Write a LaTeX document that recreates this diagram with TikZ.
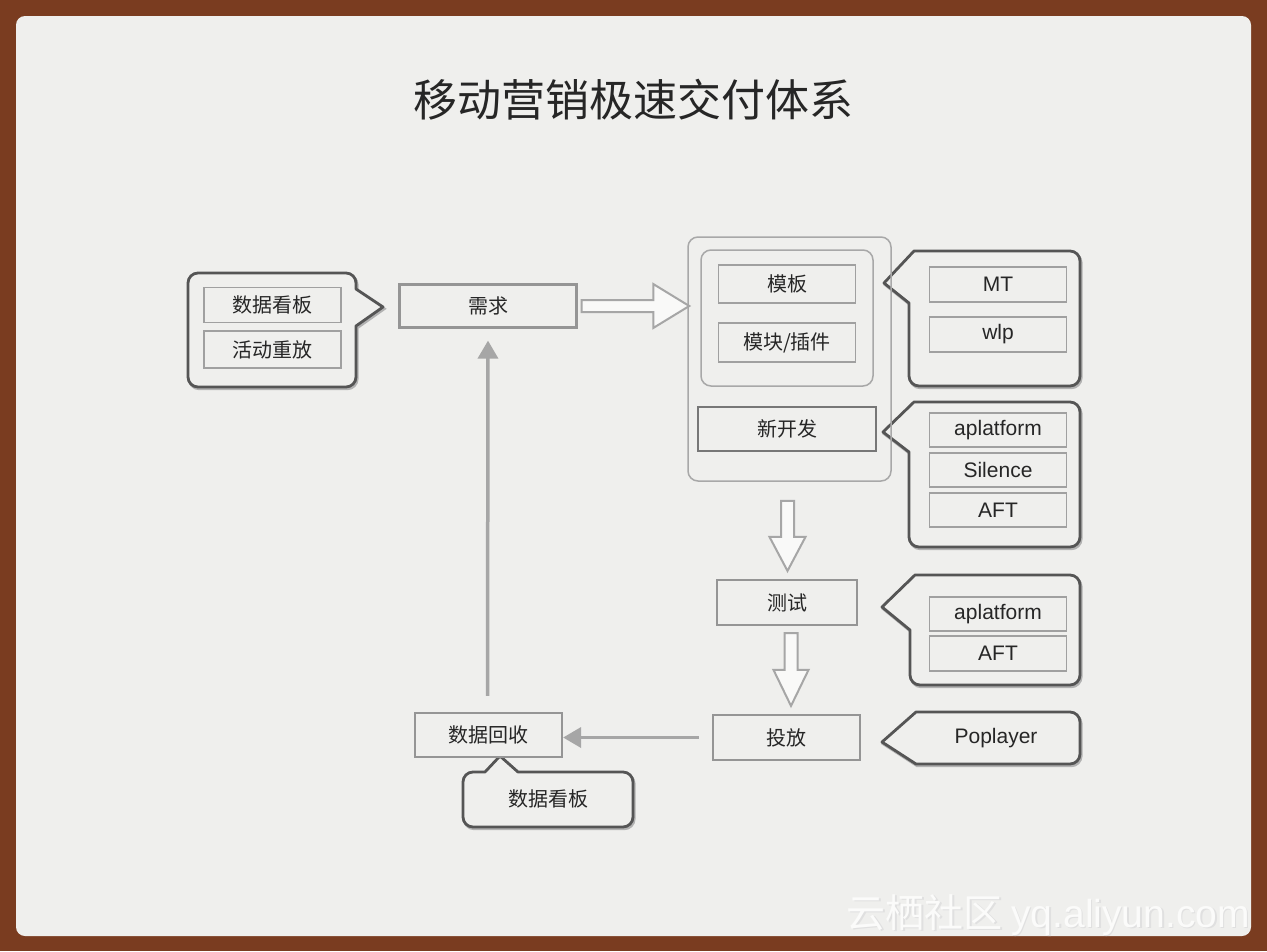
\documentclass[tikz,border=0pt]{standalone}
\usepackage{fontspec}
\setmainfont{Noto Sans CJK SC}
\newfontfamily\lat{Liberation Sans}
\usetikzlibrary{calc,arrows.meta}
\definecolor{bgbrown}{HTML}{7A3C20}
\definecolor{panel}{HTML}{EFEFED}
\definecolor{txt}{HTML}{262626}
\definecolor{boxgray}{HTML}{A0A0A0}
\definecolor{stagegray}{HTML}{959595}
\definecolor{calloutgray}{HTML}{555555}
\definecolor{contgray}{HTML}{A8A8A8}
\definecolor{arrowgray}{HTML}{A6A6A6}
\begin{document}
\begin{tikzpicture}[x=1pt,y=-1pt,
  inbox/.style={draw=boxgray, line width=1.5pt, fill=panel, minimum width=137pt,
    minimum height=35pt, inner sep=0pt, text=txt, font=\fontsize{20}{24}\selectfont},
  latbox/.style={inbox, font=\lat\fontsize{21}{25}\selectfont},
  stage/.style={draw=stagegray, line width=2.2pt, fill=panel, inner sep=0pt, text=txt,
    font=\fontsize{20}{24}\selectfont},
  callout/.style={draw=calloutgray, line width=2.8pt, fill=panel, line join=round,
    preaction={draw=black!30, line width=2.8pt, transform canvas={shift={(1.2pt,-1.8pt)}}}},
  container/.style={draw=contgray, line width=1.5pt, rounded corners=10pt, inner sep=0pt},
  hollow/.style={draw=arrowgray, line width=2pt, fill=panel!40!white, line join=miter},
  flow/.style={draw=arrowgray, line width=3.5pt, -{Triangle[length=18pt,width=20pt]}}]

% background
\fill[bgbrown] (0,0) rectangle (1267,951);
\fill[panel, rounded corners=9pt] (16,16) rectangle (1251,936);
\useasboundingbox (0,0) rectangle (1267,951);

% title
\node[text=txt, font=\fontsize{44}{52}\selectfont, inner sep=0pt] (title) at (633,100) {移动营销极速交付体系};

% callouts (shapes)
\draw[callout] (188,330) [rounded corners=10pt] -- (188,273) -- (356,273) [sharp corners] -- (356,289)
  -- (383,307) -- (356,326) [rounded corners=10pt] -- (356,387) -- (188,387) -- cycle;
\draw[callout] (1080,320) [rounded corners=10pt] -- (1080,386) -- (909,386) [sharp corners] -- (909,303)
  -- (884,283) -- (914,251) [rounded corners=10pt] -- (1080,251) -- cycle;
\draw[callout] (1080,470) [rounded corners=10pt] -- (1080,547) -- (909,547) [sharp corners] -- (909,452)
  -- (883,432) -- (914,402) [rounded corners=10pt] -- (1080,402) -- cycle;
\draw[callout] (1080,630) [rounded corners=10pt] -- (1080,685) -- (910,685) [sharp corners] -- (910,630)
  -- (882,607) -- (915,575) [rounded corners=10pt] -- (1080,575) -- cycle;
\draw[callout] (1080,738) [rounded corners=10pt] -- (1080,764) [sharp corners] -- (916,764)
  -- (882,742) -- (916,712) [rounded corners=10pt] -- (1080,712) -- cycle;
\draw[callout] (633,800) [rounded corners=10pt] -- (633,827) -- (463,827) -- (463,772) [sharp corners]
  -- (485,772) -- (500,756) -- (518,772) [rounded corners=10pt] -- (633,772) -- cycle;

% left callout contents
\node[inbox] (kb1) at (272.5,305) {数据看板};
\node[inbox, minimum height=37pt] (cf) at (272.5,349.5) {活动重放};

% stages
\node[stage, minimum width=177pt, minimum height=43pt] (req) at (488,306) {需求};
\node[container, minimum width=203pt, minimum height=244pt] (big) at (789.5,359) {};
\node[container, minimum width=172pt, minimum height=136pt] (inner) at (787,318) {};
\node[inbox, minimum height=38pt] (mb) at (787,284) {模板};
\node[inbox, minimum height=39pt] (mk) at (787,342.5) {模块/插件};
\node[stage, draw=stagegray!80!black, line width=2.6pt, minimum width=178pt, minimum height=44pt] (xk) at (787,429) {新开发};
\node[stage, minimum width=140pt, minimum height=45pt] (test) at (787,602.5) {测试};
\node[stage, minimum width=147pt, minimum height=45pt] (tf) at (786.5,737.5) {投放};
\node[stage, minimum width=147pt, minimum height=44pt] (hs) at (488.5,735) {数据回收};

% right callout contents
\node[latbox] (mt) at (998,284.5) {MT};
\node[latbox] (wlp) at (998,334.5) {wlp};
\node[latbox, minimum height=34pt] (ap1) at (998,430) {aplatform};
\node[latbox, minimum height=34pt] (sil) at (998,470) {Silence};
\node[latbox, minimum height=34pt] (aft1) at (998,510) {AFT};
\node[latbox, minimum height=34pt] (ap2) at (998,614) {aplatform};
\node[latbox] (aft2) at (998,653.5) {AFT};
\node[text=txt, font=\lat\fontsize{21}{25}\selectfont, inner sep=0pt] (pop) at (996,738) {Poplayer};
\node[text=txt, font=\fontsize{20}{24}\selectfont, inner sep=0pt] (kb2) at (548,799) {数据看板};

% hollow arrows
\draw[hollow] let \p1=($(req.east)+(4,0)$), \p2=(big.west) in
  (\x1,\y1-6pt) -- (\x2-34pt,\y1-6pt) -- (\x2-34pt,\y1-22pt) -- (\x2+2pt,\y1)
  -- (\x2-34pt,\y1+22pt) -- (\x2-34pt,\y1+6pt) -- (\x1,\y1+6pt) -- cycle;
\draw[hollow] let \p1=($(big.south)+(-2,19)$), \p2=($(test.north)+(0,-8)$) in
  (\x1-6.5pt,\y1) -- (\x1-6.5pt,\y2+34pt) -- (\x1-18pt,\y2+34pt) -- (\x1,\y2)
  -- (\x1+18pt,\y2+34pt) -- (\x1+6.5pt,\y2+34pt) -- (\x1+6.5pt,\y1) -- cycle;
\draw[hollow] let \p1=($(test.south)+(4,7)$), \p2=($(tf.north)+(0,-8)$) in
  (\x1-6.5pt,\y1) -- (\x1-6.5pt,\y2+36pt) -- (\x1-17.5pt,\y2+36pt) -- (\x1,\y2)
  -- (\x1+17.5pt,\y2+36pt) -- (\x1+6.5pt,\y2+36pt) -- (\x1+6.5pt,\y1) -- cycle;

% flow arrows
\coordinate (fa) at ($(tf.west)+(-13,0)$);
\draw[flow] (fa) -- (fa -| hs.east);
\draw[flow] ($(hs.north)+(-1,-16)$) -- ($(req.south)+(0,12)$);

% watermark
\node[text=black!12, font=\fontsize{39}{44}\selectfont, anchor=east, inner sep=0pt] (wm0) at (1251.5,916.5) {云栖社区 {\lat yq.aliyun.com}};
\node[text=white!75!panel, font=\fontsize{39}{44}\selectfont, anchor=east, inner sep=0pt] (wm) at (1250,915) {云栖社区 {\lat yq.aliyun.com}};
\end{tikzpicture}
\end{document}
